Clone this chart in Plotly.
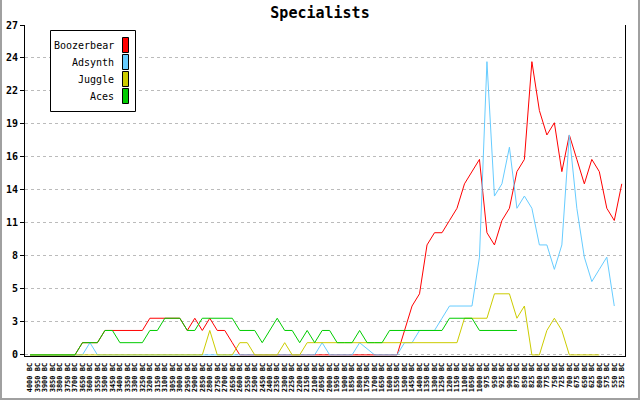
import plotly.graph_objects as go

# ---- data ----
x_labels = [f"{y} BC" for y in range(4000, 999, -50)] + [f"{y} BC" for y in range(975, 524, -25)]

boozerbear = [0, 0, 0, 0, 0, 0, 0, 1, 1, 1,
              2, 2, 2, 2, 2, 2, 3, 3, 3, 3,
              3, 2, 3, 2, 3, 2, 2, 1, 0, 0,
              0, 0, 0, 0, 0, 0, 0, 0, 0, 0,
              0, 0, 0, 0, 0, 0, 0, 0, 0, 0,
              2, 4, 5, 9, 10, 10, 11, 12, 14, 15,
              16, 10, 9, 11, 12, 15, 16, 24, 20, 18,
              19, 15, 18, 16, 14, 16, 15, 12, 11, 14]

adsynth = [0, 0, 0, 0, 0, 0, 0, 0, 1, 0,
           0, 0, 0, 0, 0, 0, 0, 0, 0, 0,
           0, 0, 0, 0, 0, 0, 0, 0, 0, 0,
           0, 0, 0, 0, 0, 0, 0, 0, 0, 1,
           0, 0, 0, 0, 1, 0.5, 0, 0, 0, 0,
           1, 1, 2, 2, 2, 3, 4, 4, 4, 4,
           8, 24, 13, 14, 17, 12, 13, 12, 9, 9,
           7, 9, 18, 12, 8, 6, 7, 8, 4, None]

juggle = [0, 0, 0, 0, 0, 0, 0, 0, 0, 0,
          0, 0, 0, 0, 0, 0, 0, 0, 0, 0,
          0, 0, 0, 0, 2, 0, 0, 0, 1, 1,
          0, 0, 0, 0, 1, 0, 0, 1, 1, 1,
          1, 1, 1, 1, 1, 1, 1, 1, 1, 1,
          1, 1, 1, 1, 1, 1, 1, 1, 3, 3,
          3, 3, 5, 5, 5, 3, 4, 0, 0, 2,
          3, 2, 0, 0, 0, 0, 0, None, None, None]

aces = [0, 0, 0, 0, 0, 0, 0, 1, 1, 1,
        2, 2, 1, 1, 1, 1, 2, 2, 3, 3,
        3, 2, 2, 3, 3, 3, 3, 3, 2, 2,
        2, 1, 2, 3, 2, 2, 1, 2, 1, 2,
        2, 1, 1, 1, 2, 1, 1, 1, 2, 2,
        2, 2, 2, 2, 2, 2, 3, 3, 3, 3,
        2, 2, 2, 2, 2, 2] + [None] * 14

series_names = ["Boozerbear", "Adsynth", "Juggle", "Aces"]
series_values = [boozerbear, adsynth, juggle, aces]
series_colors = ["#ff0000", "#66ccff", "#cccc00", "#00cc00"]

y_tick_vals = [2.7 * k for k in range(11)]
y_tick_text = ["0", "3", "5", "8", "11", "14", "16", "19", "22", "24", "27"]

# ---- figure ----
xi = list(range(len(x_labels)))
fig = go.Figure()
for name, vals, col in zip(series_names, series_values, series_colors):
    fig.add_trace(go.Scatter(x=xi, y=vals, mode="lines", name=name,
                             line=dict(color=col, width=1), showlegend=False,
                             connectgaps=False))

L, R, T, B = 25, 15, 25, 44
W, H = 640, 400
PW, PH = W - L - R, H - T - B

def px(xp):
    return (xp - L) / PW

def py(yp):
    return (H - B - yp) / PH

font_family = "DejaVu Sans Mono"

fig.update_layout(
    width=W, height=H,
    margin=dict(l=L, r=R, t=T, b=B, autoexpand=False),
    paper_bgcolor="white", plot_bgcolor="white",
    title=dict(text="<b>Specialists</b>", x=0.5, xanchor="center",
               y=1 - 13 / H, yanchor="middle",
               font=dict(family=font_family, size=15, color="black")),
    xaxis=dict(range=[-0.67, 79.43], tickmode="array", tickvals=xi, ticktext=x_labels,
               tickangle=-90, tickfont=dict(family=font_family, size=7, color="black", weight="bold"),
               showline=True, linecolor="black", linewidth=1, showgrid=False,
               zeroline=False, ticks="", automargin=False, ticklabelstandoff=3),
    yaxis=dict(range=[-0.09, 27], tickmode="array", tickvals=y_tick_vals, ticktext=y_tick_text,
               tickfont=dict(family=font_family, size=10, color="black", weight="bold"),
               ticks="outside", ticklen=4, tickcolor="black",
               showline=True, mirror=True, linecolor="black", linewidth=1,
               showgrid=True, gridcolor="#bbbbbb", griddash="3px,3px", gridwidth=1,
               zeroline=False, automargin=False),
)

shapes = []
annotations = []
# legend box
shapes.append(dict(type="rect", xref="paper", yref="paper",
                   x0=px(50.5), x1=px(135.5), y0=py(111.5), y1=py(30.5),
                   line=dict(color="black", width=1), fillcolor="white", layer="above"))
for k, (name, col) in enumerate(zip(series_names, series_colors)):
    top = 37.5 + 17 * k
    shapes.append(dict(type="rect", xref="paper", yref="paper",
                       x0=px(122.5), x1=px(128.5), y0=py(top + 15), y1=py(top),
                       line=dict(color="black", width=1), fillcolor=col, layer="above"))
    annotations.append(dict(text=name, xref="paper", yref="paper",
                            x=px(116), y=py(top + 8), xanchor="right", yanchor="middle",
                            showarrow=False,
                            font=dict(family=font_family, size=10, color="black")))

# outer gray frame (left, right, bottom)
gray = "#a0a0a0"
shapes.append(dict(type="line", xref="paper", yref="paper", x0=px(1), x1=px(1), y0=py(0), y1=py(400),
                   line=dict(color=gray, width=2)))
shapes.append(dict(type="line", xref="paper", yref="paper", x0=px(639), x1=px(639), y0=py(0), y1=py(400),
                   line=dict(color=gray, width=2)))
shapes.append(dict(type="line", xref="paper", yref="paper", x0=px(0), x1=px(640), y0=py(399), y1=py(399),
                   line=dict(color=gray, width=2)))

fig.update_layout(shapes=shapes, annotations=annotations)
fig.write_html("out.html", config={"displayModeBar": False},
               post_script="document.body.style.margin='0';document.body.style.overflow='hidden';")
